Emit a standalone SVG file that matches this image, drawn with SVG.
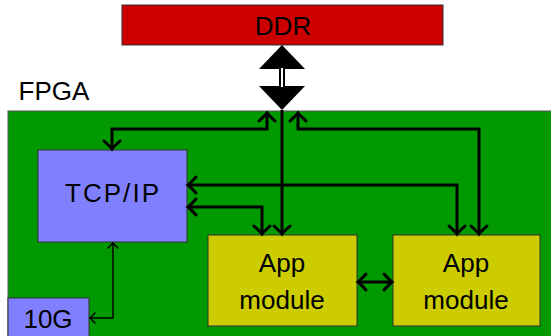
<svg xmlns="http://www.w3.org/2000/svg" width="551" height="336" viewBox="0 0 551 336">
<defs>
<style>
text{font-family:"Liberation Sans",Arial,sans-serif;font-size:26px;fill:#000;text-anchor:middle}
.box{stroke:#333;stroke-width:1}
.thick{fill:none;stroke:#000;stroke-width:3;stroke-linejoin:miter}
.thin{fill:none;stroke:#000;stroke-width:1.5}
</style>
<marker id="ah" markerUnits="userSpaceOnUse" orient="auto-start-reverse" refX="0" refY="0" markerWidth="20" markerHeight="20" viewBox="-10 -10 20 20" overflow="visible">
<path d="M-8,-8 Q-2,-1.5 0,0 Q-2,1.5 -8,8" fill="none" stroke="#000" stroke-width="3" stroke-linecap="round"/>
</marker>
<marker id="ahs" markerUnits="userSpaceOnUse" orient="auto-start-reverse" refX="0" refY="0" markerWidth="12" markerHeight="12" viewBox="-6 -6 12 12" overflow="visible">
<path d="M-5,-5 Q-1.2,-1 0,0 Q-1.2,1 -5,5" fill="none" stroke="#000" stroke-width="1.5" stroke-linecap="round"/>
</marker>
</defs>
<rect width="551" height="336" fill="#fff"/>
<g id="fpga">
<rect x="8" y="111" width="550" height="240" fill="#009900" stroke="#555" stroke-width="1"/>
<text x="54" y="100">FPGA</text>
</g>
<g id="ddr">
<rect class="box" x="122" y="5" width="321" height="40" fill="#cc0000"/>
<text x="283" y="35">DDR</text>
</g>
<g id="ddr-link">
<polygon points="282,45 305,69 259,69" fill="#000"/>
<polygon points="259,86 305,86 282,110" fill="#000"/>
<line x1="282" y1="68" x2="282" y2="87" stroke="#000" stroke-width="6"/>
<line x1="282" y1="68" x2="282" y2="87" stroke="#fff" stroke-width="2"/>
</g>
<g id="tcpip">
<rect class="box" x="38" y="150" width="149" height="92" fill="#8080ff"/>
<text x="112" y="202" textLength="94" lengthAdjust="spacing">TCP/IP</text>
</g>
<g id="app1">
<rect class="box" x="208" y="235" width="149" height="91" fill="#cccc00"/>
<text x="282" y="272">App</text>
<text x="282" y="309">module</text>
</g>
<g id="app2">
<rect class="box" x="393" y="235" width="147" height="91" fill="#cccc00"/>
<text x="466" y="272">App</text>
<text x="466" y="309">module</text>
</g>
<g id="tenG">
<rect class="box" x="8" y="298" width="81" height="50" fill="#8080ff"/>
<text x="48" y="328">10G</text>
</g>
<g id="connectors">
<path class="thick" d="M267,113 V129 H112 V149" marker-start="url(#ah)" marker-end="url(#ah)"/>
<path class="thick" d="M282,110 V234" marker-end="url(#ah)"/>
<path class="thick" d="M298,113 V129 H479 V234" marker-start="url(#ah)" marker-end="url(#ah)"/>
<path class="thick" d="M188,185 H457 V234" marker-start="url(#ah)" marker-end="url(#ah)"/>
<path class="thick" d="M188,207 H262 V234" marker-start="url(#ah)" marker-end="url(#ah)"/>
<path class="thick" d="M358,282 H392" marker-start="url(#ah)" marker-end="url(#ah)"/>
<path class="thin" d="M113,243 V318 H90" marker-start="url(#ahs)" marker-end="url(#ahs)"/>
</g>
</svg>
